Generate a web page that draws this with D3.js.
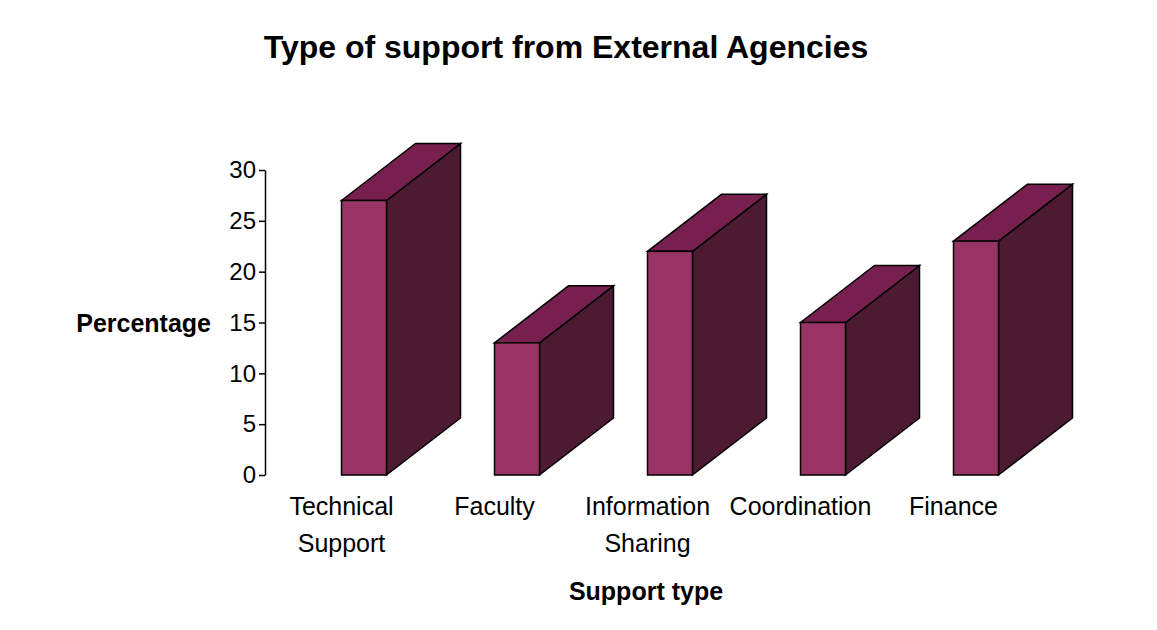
<!DOCTYPE html>
<html><head><meta charset="utf-8">
<script src="https://cdn.jsdelivr.net/npm/d3@7/dist/d3.min.js"></script>
<style>body{margin:0;background:#fff}text{font-family:"Liberation Sans",Arial,sans-serif}</style>
</head><body><svg id="c" width="1157" height="630"></svg>
<script>
const categories = ["Technical Support","Faculty","Information Sharing","Coordination","Finance"];
const values = [27,13,22,15,23];
const yTicks = [0,5,10,15,20,25,30];

const svg = d3.select("#c");
const x = d3.scaleBand().domain(categories).range([265,1030]);
const y = d3.scaleLinear().domain([0,30]).range([475,170]);
const bw = 45, dx = 74, dy = 57;

svg.append("text").attr("x",566).attr("y",58).attr("text-anchor","middle")
  .attr("font-size",32).attr("font-weight","bold").text("Type of support from External Agencies");

const ax = svg.append("g").attr("transform","translate(265,0)")
  .call(d3.axisLeft(y).tickValues(yTicks).tickSize(6).tickSizeOuter(0));
ax.select(".domain").attr("stroke","#000").attr("stroke-width",1.5);
ax.selectAll(".tick line").attr("stroke","#000").attr("stroke-width",1.5);
ax.selectAll(".tick text").attr("font-size",24).attr("fill","#000").attr("x",-9)
  .attr("font-family","Liberation Sans, Arial, sans-serif");

const g = svg.append("g");
categories.forEach((c,i)=>{
  const x0 = x(c) + x.bandwidth()/2, x1 = x0 + bw, yt = y(values[i]), yb = y(0);
  g.append("path").attr("d",`M${x1},${yb}L${x1+dx},${yb-dy}L${x1+dx},${yt-dy}L${x1},${yt}Z`)
    .attr("fill","#4d1a33").attr("stroke","#000").attr("stroke-width",1.5);
  g.append("path").attr("d",`M${x0},${yt}L${x0+dx},${yt-dy}L${x1+dx},${yt-dy}L${x1},${yt}Z`)
    .attr("fill","#772050").attr("stroke","#000").attr("stroke-width",1.5);
  g.append("rect").attr("x",x0).attr("y",yt).attr("width",bw).attr("height",yb-yt)
    .attr("fill","#993366").attr("stroke","#000").attr("stroke-width",1.5);
  const words = c.split(" ");
  const t = svg.append("text").attr("text-anchor","middle").attr("font-size",25);
  words.forEach((w,k)=>t.append("tspan").attr("x",x0).attr("y",515+k*37).text(w));
});

svg.append("text").attr("x",646).attr("y",600).attr("text-anchor","middle")
  .attr("font-size",25).attr("font-weight","bold").text("Support type");
svg.append("text").attr("x",211).attr("y",332).attr("text-anchor","end")
  .attr("font-size",25).attr("font-weight","bold").text("Percentage");
</script></body></html>
